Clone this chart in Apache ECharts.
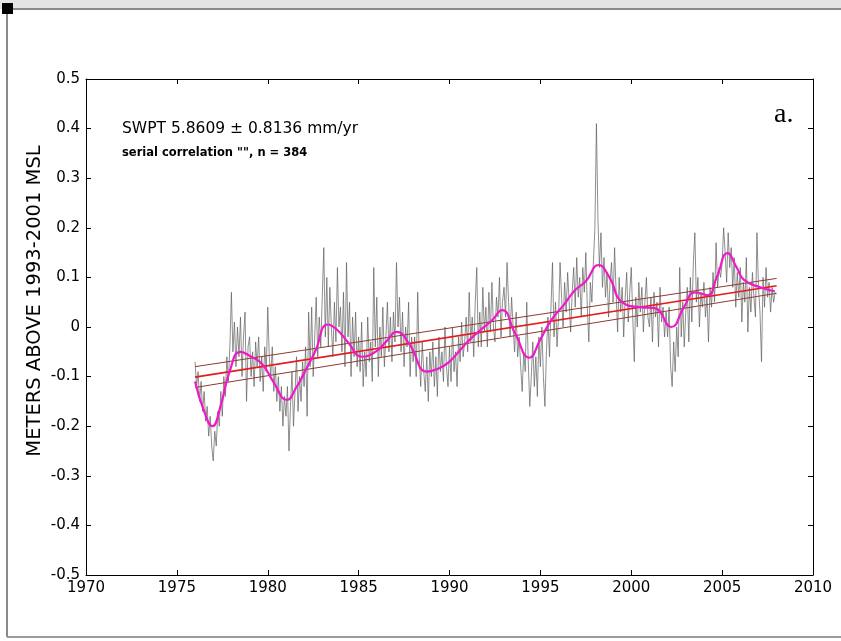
<!DOCTYPE html>
<html>
<head>
<meta charset="utf-8">
<title>SWPT sea level</title>
<script src="https://cdn.jsdelivr.net/npm/echarts@6/dist/echarts.min.js"></script>
<style>
html, body { margin: 0; padding: 0; background: #fff; }
#chart { width: 841px; height: 641px; }
</style>
</head>
<body>
<div id="chart"></div>
<script>
"use strict"
// monthly sea level (m above 1993-2001 MSL), first value = Jan 1976
const startYear = 1976;
const monthlyLevel = [
    -0.07, -0.12, -0.09, -0.15, -0.11, -0.17, -0.13, -0.19, -0.16, -0.22, -0.18, -0.24,
    -0.27, -0.21, -0.24, -0.17, -0.2, -0.13, -0.18, -0.1, -0.14, -0.06, -0.11, -0.04,
    0.07, -0.05, 0.01, -0.08, 0.0, -0.06, 0.02, -0.1, -0.02, 0.03, -0.15, -0.04,
    -0.02, -0.1, -0.05, -0.12, -0.03, -0.08, -0.02, -0.11, -0.06, -0.13, -0.04, -0.09,
    0.04, -0.06, -0.1, -0.04, -0.13, -0.08, -0.15, -0.1, -0.17, -0.12, -0.2, -0.14,
    -0.18, -0.12, -0.25, -0.16, -0.09, -0.2, -0.13, -0.06, -0.17, -0.1, -0.15, -0.07,
    -0.12, -0.04, -0.18, 0.03, -0.08, 0.04, -0.1, -0.02, 0.06, -0.06, 0.02, -0.04,
    0.06, 0.16, -0.02, 0.1, -0.04, 0.08, 0.0, -0.06, 0.05, -0.03, 0.12, 0.0,
    0.04, -0.05, 0.07, -0.08, 0.13, -0.02, 0.05, -0.1, 0.02, -0.06, 0.03, -0.08,
    -0.02, -0.09, 0.01, -0.12, -0.05, -0.1, 0.02, -0.07, -0.03, -0.11, 0.12, -0.04,
    0.06, -0.1, 0.0, -0.06, 0.04, -0.08, -0.02, 0.05, -0.05, 0.02, -0.07, 0.03,
    -0.03, 0.13, 0.0, 0.06, -0.05, 0.03, -0.08, 0.0, -0.04, 0.05, -0.1, -0.02,
    -0.07, -0.02, -0.1, 0.07, -0.06, -0.12, -0.03, -0.09, -0.13, -0.06, -0.15, -0.05,
    -0.1, -0.03, -0.12, -0.06, -0.14, -0.02, -0.09, -0.05, -0.11, 0.0, -0.08, -0.12,
    -0.04, -0.11, 0.0, -0.09, -0.05, -0.12, -0.02, -0.07, 0.01, -0.06, -0.03, 0.02,
    -0.05, 0.07, -0.03, 0.02, -0.06, 0.05, 0.12, -0.04, 0.03, -0.04, 0.08, -0.01,
    0.04, -0.04, 0.07, -0.01, 0.09, 0.0, -0.03, 0.06, 0.02, 0.1, -0.02, 0.05,
    0.08, 0.02, 0.13, 0.05, -0.02, 0.06, 0.0, -0.05, 0.03, -0.06, -0.02, -0.08,
    -0.13, -0.05, -0.09, 0.05, -0.07, -0.16, -0.1, -0.03, -0.12, -0.06, -0.14, -0.02,
    -0.08, 0.0, -0.1, -0.16, -0.05, 0.02, -0.06, 0.04, 0.13, -0.02, 0.05, -0.04,
    0.02, 0.13, 0.06, 0.0, 0.09, 0.03, 0.11, 0.05, -0.01, 0.07, 0.12, 0.04,
    0.14, 0.06, 0.1, 0.02, 0.12, 0.07, 0.15, 0.04, -0.03, 0.09, 0.05, 0.13,
    0.2, 0.41, 0.22, 0.12, 0.19, 0.08, 0.14, 0.06, 0.11, 0.02, 0.09, 0.13,
    0.05, 0.16, 0.07, -0.01, 0.1, 0.03, 0.08, -0.02, 0.06, 0.11, 0.01, 0.07,
    0.12, 0.02, -0.07, 0.06, 0.0, 0.09, 0.03, 0.08, -0.01, 0.05, 0.1, 0.02,
    0.0, 0.06, -0.03, 0.07, 0.02, 0.05, -0.04, 0.08, 0.01, 0.04, -0.02, 0.03,
    -0.02, 0.04, -0.08, -0.12, -0.03, -0.09, 0.0, -0.06, 0.12, -0.02, 0.05, -0.04,
    0.03, 0.08, -0.03, 0.1, 0.01, 0.13, 0.19, 0.05, 0.1, 0.0, 0.07, 0.04,
    0.09, 0.02, 0.06, -0.03, 0.08, 0.04, 0.11, 0.05, 0.17, 0.08, 0.12, 0.1,
    0.13, 0.2, 0.15, 0.09, 0.19, 0.12, 0.16, 0.08, 0.14, 0.04, 0.11, 0.06,
    0.12, 0.01, 0.09, 0.05, 0.14, -0.01, 0.08, 0.03, 0.11, 0.06, 0.02, 0.19,
    0.08, 0.03, -0.07, 0.1, 0.04, 0.12, 0.06, 0.09, 0.03, 0.08, 0.05, 0.07
];

// low-pass curve (magenta)
const smoothYears = [1976.0, 1976.5, 1976.95, 1977.4, 1977.9, 1978.5, 1979.1, 1979.7, 1980.3, 1981.05,
    1981.6, 1982.0, 1982.6, 1983.3, 1983.8, 1984.4, 1985.2, 1986.0, 1986.5, 1987.1,
    1987.8, 1988.75, 1989.3, 1989.9, 1990.6, 1991.1, 1991.7, 1992.3, 1992.9, 1993.6,
    1994.4, 1995.0, 1995.6, 1996.3, 1996.9, 1997.5, 1998.2, 1998.8, 1999.5, 2000.5,
    2001.3, 2002.2, 2002.9, 2003.5, 2004.2, 2004.7, 2005.3, 2005.8, 2006.2, 2007.1, 2007.9];
const smoothLevel = [-0.11, -0.17, -0.2, -0.16, -0.09, -0.05, -0.06, -0.075, -0.11, -0.147,
    -0.12, -0.093, -0.05, 0.005, -0.005, -0.03, -0.06, -0.048, -0.03, -0.01,
    -0.035, -0.09, -0.085, -0.073, -0.046, -0.026, -0.006, 0.012, 0.034, -0.012,
    -0.062, -0.025, 0.014, 0.045, 0.074, 0.092, 0.125, 0.1, 0.05, 0.04,
    0.038, 0.0, 0.04, 0.07, 0.064, 0.1, 0.149, 0.12, 0.095, 0.08, 0.072];

// linear fit and its bounds, value at each end year
const fitYears = [1976, 2008];
const fitMid = [-0.101, 0.083];
const fitUpper = [-0.08, 0.098];
const fitLower = [-0.122, 0.068];

let chart = echarts.init(document.getElementById("chart"));

let monthlyData = monthlyLevel.map(function (v, i) {
    return [startYear + i / 12, v];
});
let smoothData = smoothYears.map(function (y, i) {
    return [y, smoothLevel[i]];
});
function fitLine(vals) {
    return fitYears.map(function (y, i) { return [y, vals[i]]; });
}

const font = "DejaVu Sans";
function lineSeries(data, color, width) {
    return {
        type: "line", data: data, symbol: "none", animation: false,
        lineStyle: { color: color, width: width }, silent: true
    };
}

let smooth = lineSeries(smoothData, "#f019c8", 2.2);
smooth.smooth = 0.5;

const boxLine = { onZero: false, lineStyle: { color: "#000", width: 1 } };
const boxTick = { show: true, inside: true, length: 5, lineStyle: { color: "#000" } };

let option = {
    backgroundColor: "#fff",
    animation: false,
    grid: { left: 86, right: 28, top: 79, bottom: 66 },
    xAxis: [{
        type: "value", min: 1970, max: 2010, interval: 5,
        axisLine: boxLine, axisTick: boxTick,
        axisLabel: {
            color: "#000", fontFamily: font, fontSize: 15, margin: 6,
            formatter: function (v) { return String(v); }
        },
        splitLine: { show: false }
    }, {
        type: "value", position: "top", min: 1970, max: 2010, interval: 5,
        axisLine: boxLine, axisTick: boxTick,
        axisLabel: { show: false }, splitLine: { show: false }
    }],
    yAxis: [{
        type: "value", min: -0.5, max: 0.5, interval: 0.1,
        axisLine: { show: true, onZero: false, lineStyle: { color: "#000", width: 1 } },
        axisTick: boxTick,
        axisLabel: {
            color: "#000", fontFamily: font, fontSize: 15, margin: 6,
            formatter: function (v) { return Math.abs(v) < 1e-9 ? "0" : v.toFixed(1); }
        },
        splitLine: { show: false }
    }, {
        type: "value", position: "right", min: -0.5, max: 0.5, interval: 0.1,
        axisLine: { show: true, onZero: false, lineStyle: { color: "#000", width: 1 } },
        axisTick: boxTick,
        axisLabel: { show: false }, splitLine: { show: false }
    }],
    series: [
        lineSeries(monthlyData, "#5f5f5f", 0.7),
        lineSeries(fitLine(fitUpper), "#8c3b2e", 1),
        lineSeries(fitLine(fitLower), "#8c3b2e", 1),
        lineSeries(fitLine(fitMid), "#e31b1b", 1.6),
        smooth
    ],
    graphic: [
        // figure frame
        { type: "rect", shape: { x: 0, y: 0, width: 841, height: 9 }, style: { fill: "#e4e4e4" } },
        { type: "line", shape: { x1: 8, y1: 9, x2: 841, y2: 9 }, style: { stroke: "#8a8a8a", lineWidth: 2 } },
        { type: "line", shape: { x1: 7, y1: 9, x2: 7, y2: 637 }, style: { stroke: "#8a8a8a", lineWidth: 2 } },
        { type: "line", shape: { x1: 7, y1: 637, x2: 841, y2: 637 }, style: { stroke: "#9a9a9a", lineWidth: 2 } },
        { type: "rect", shape: { x: 2, y: 3, width: 11, height: 11 }, style: { fill: "#000" } },
        // y axis title
        {
            type: "text", x: 35, y: 301, rotation: Math.PI / 2,
            style: {
                text: "METERS ABOVE 1993-2001 MSL", font: "19.5px 'DejaVu Sans'", fill: "#000",
                align: "center", verticalAlign: "middle"
            }
        },
        {
            type: "text", left: 122, top: 121,
            style: { text: "SWPT 5.8609 \u00b1 0.8136 mm/yr", font: "15.5px 'DejaVu Sans'", fill: "#000" }
        },
        {
            type: "text", left: 122, top: 147,
            style: { text: "serial correlation \"\", n = 384", font: "bold 11.5px 'DejaVu Sans'", fill: "#000" }
        },
        {
            type: "text", left: 774, top: 101,
            style: { text: "a.", font: "28px 'Liberation Serif'", fill: "#000" }
        }
    ]
};
chart.setOption(option);
</script>
</body>
</html>
